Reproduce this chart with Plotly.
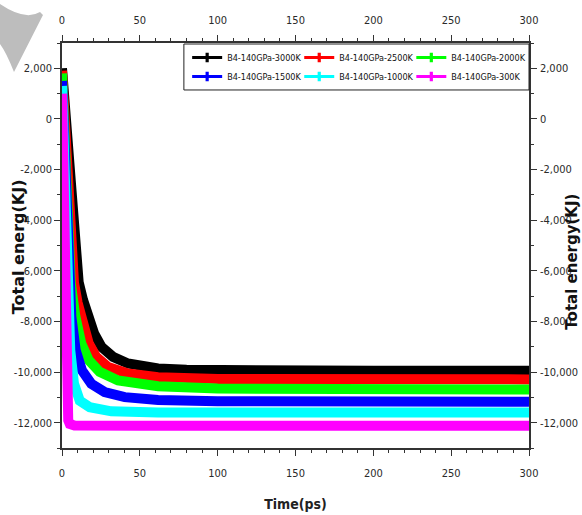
import plotly.graph_objects as go

# ---- data (time in ps, total energy in kJ) ----
series_names = ["B4-140GPa-3000K", "B4-140GPa-2500K", "B4-140GPa-2000K",
                "B4-140GPa-1500K", "B4-140GPa-1000K", "B4-140GPa-300K"]
series_colors = ["#000000", "#ff0000", "#00ff00", "#0000ff", "#00ffff", "#ff00ff"]

t_3000 = [0, 2, 4, 6, 7.7, 8.6, 10.7, 13.5, 16.7, 20.6, 25.3, 32.8, 42.4, 53, 61.7, 80, 100, 150, 200, 250, 300]
e_3000 = [2000, 400, -1400, -3500, -5100, -5650, -6450, -7150, -7810, -8470, -9000, -9400, -9660, -9800, -9860,
          -9910, -9930, -9945, -9950, -9950, -9950]

t_2500 = [0, 1.5, 3, 4.5, 6, 7.7, 10, 12, 14.5, 17.2, 22, 29.6, 42.4, 61.7, 100, 150, 200, 250, 300]
e_2500 = [1900, 300, -1800, -4600, -5700, -6480, -7250, -7810, -8400, -8870, -9400, -9800, -10060, -10200,
          -10270, -10285, -10290, -10290, -10290]

t_2000 = [0, 1.2, 2.4, 3.6, 5.6, 8.6, 12.4, 17.2, 24.2, 36, 61.7, 100, 150, 200, 250, 300]
e_2000 = [1800, 0, -2200, -4600, -6480, -7810, -8870, -9530, -9990, -10330, -10560, -10650, -10680, -10690,
          -10690, -10690]

t_1500 = [0, 1, 2, 3, 4.1, 6, 8.8, 12.8, 18.8, 27.4, 40.3, 61.7, 100, 150, 200, 250, 300]
e_1500 = [1500, -500, -2800, -5000, -6480, -7810, -9140, -9930, -10460, -10790, -10990, -11100, -11150,
          -11165, -11170, -11170, -11170]

t_1000 = [0, 0.8, 1.6, 2.3, 3, 4.1, 5.3, 7.7, 11.4, 17.8, 31.7, 61.7, 100, 150, 200, 250, 300]
e_1000 = [1300, -800, -3000, -5000, -6480, -7810, -9140, -10460, -11130, -11390, -11550, -11600, -11600,
          -11600, -11600, -11600, -11600]

t_300 = [0, 0.8, 1.5, 2.3, 3, 4, 5, 8, 50, 100, 150, 200, 250, 300]
e_300 = [1000, -3000, -7000, -10000, -11300, -11900, -12050, -12110, -12120, -12120, -12120, -12120, -12120, -12120]

series_t = [t_3000, t_2500, t_2000, t_1500, t_1000, t_300]
series_e = [e_3000, e_2500, e_2000, e_1500, e_1000, e_300]

x_ticks = [0, 50, 100, 150, 200, 250, 300]
y_ticks = [2000, 0, -2000, -4000, -6000, -8000, -10000, -12000]
y_tick_labels = ["2,000", "0", "-2,000", "-4,000", "-6,000", "-8,000", "-10,000", "-12,000"]

# legend column each series goes to (3 columns x 2 rows, like the reference)
legend_ids = ["legend", "legend2", "legend3", "legend", "legend2", "legend3"]

NARROW = "DejaVu Sans Condensed, Roboto Condensed, Liberation Sans Narrow, Roboto, sans-serif"

# ---- figure ----
fig = go.Figure()

for name, col, tt, ee in zip(series_names, series_colors, series_t, series_e):
    fig.add_trace(go.Scatter(x=tt, y=ee, mode="lines", name=name, showlegend=False,
                             line=dict(color=col, width=10), hoverinfo="skip"))

for name, col, lg in zip(series_names, series_colors, legend_ids):
    fig.add_trace(go.Scatter(x=[None], y=[None], mode="lines+markers", name=name,
                             legend=lg, legendgroup=name,
                             line=dict(color=col, width=3),
                             marker=dict(symbol="cross", size=8, color=col)))

tick_font = dict(family=NARROW, size=11, color="#2a2a2a")
axis_common = dict(showline=True, linecolor="#333333", linewidth=1.5, showgrid=False,
                   zeroline=False, ticks="outside", ticklen=6, tickwidth=1, tickcolor="#333333",
                   tickfont=tick_font, automargin=False)
xminor = dict(dtick=10, tick0=0, ticks="outside", ticklen=3, tickcolor="#333333")
yminor = dict(dtick=1000, tick0=0, ticks="outside", ticklen=3, tickcolor="#333333")

legend_common = dict(orientation="v", yanchor="top", y=1.0, xanchor="left",
                     bgcolor="rgba(0,0,0,0)", borderwidth=0, itemwidth=30,
                     tracegroupgap=2, traceorder="normal",
                     font=dict(family=NARROW, size=9, color="#111"))

fig.update_layout(
    width=582, height=515,
    margin=dict(l=62, r=53, t=43, b=67, autoexpand=False),
    paper_bgcolor="white", plot_bgcolor="white",
    xaxis=dict(range=[0, 300], tickvals=x_ticks, minor=xminor, ticklabelstandoff=8,
               title=dict(text="Time(ps)", standoff=20,
                          font=dict(family=NARROW, size=14, color="#222", weight="bold")),
               **axis_common),
    xaxis2=dict(range=[0, 300], tickvals=x_ticks, overlaying="x", side="top", matches="x",
                minor=xminor, ticklabelstandoff=7, **axis_common),
    yaxis=dict(range=[-13000, 3000], tickvals=y_ticks, ticktext=y_tick_labels, minor=yminor,
               **axis_common),
    yaxis2=dict(range=[-13000, 3000], tickvals=y_ticks, ticktext=y_tick_labels,
                overlaying="y", side="right", matches="y", minor=yminor, ticklabelstandoff=1,
                **axis_common),
    legend=dict(x=0.268, **legend_common),
    legend2=dict(x=0.508, **legend_common),
    legend3=dict(x=0.748, **legend_common),
    showlegend=True,
)

# dummy trace to activate the top/right axes
fig.add_trace(go.Scatter(x=[None], y=[None], xaxis="x2", yaxis="y2", showlegend=False, hoverinfo="skip"))

# legend frame
fig.add_shape(type="rect", xref="paper", yref="paper", x0=0.261, x1=1.0, y0=0.884, y1=0.9975,
              line=dict(color="#222", width=1), fillcolor="rgba(0,0,0,0)", layer="above")

fig.add_annotation(text="Total energ(KJ)", textangle=-90, xref="paper", yref="paper",
                   x=-0.094, y=0.496, xanchor="center", yanchor="middle", showarrow=False,
                   font=dict(family="DejaVu Sans, Verdana, sans-serif", size=16, color="#111", weight="bold"))
fig.add_annotation(text="Total energy(KJ)", textangle=-90, xref="paper", yref="paper",
                   x=1.0932, y=0.459, xanchor="center", yanchor="middle", showarrow=False,
                   font=dict(family="DejaVu Sans, Verdana, sans-serif", size=15, color="#111", weight="bold"))

# grey watermark fragment at top-left corner
def px(xp, yp):
    return (xp - 62) / 467.0, (448 - yp) / 405.0

pts = [px(0, 4), px(25, 21), px(40, 12), px(43, 15), px(14, 72), px(6, 52), px(0, 44)]
path = "M {:.4f},{:.4f} Q {:.4f},{:.4f} {:.4f},{:.4f} L {:.4f},{:.4f} L {:.4f},{:.4f} Q {:.4f},{:.4f} {:.4f},{:.4f} Z".format(
    pts[0][0], pts[0][1], pts[1][0], pts[1][1], pts[2][0], pts[2][1], pts[3][0], pts[3][1],
    pts[4][0], pts[4][1], pts[5][0], pts[5][1], pts[6][0], pts[6][1])
fig.add_shape(type="path", path=path, xref="paper", yref="paper",
              fillcolor="#bdbdbd", line=dict(width=0), layer="above")

fig.write_html("out.html")
